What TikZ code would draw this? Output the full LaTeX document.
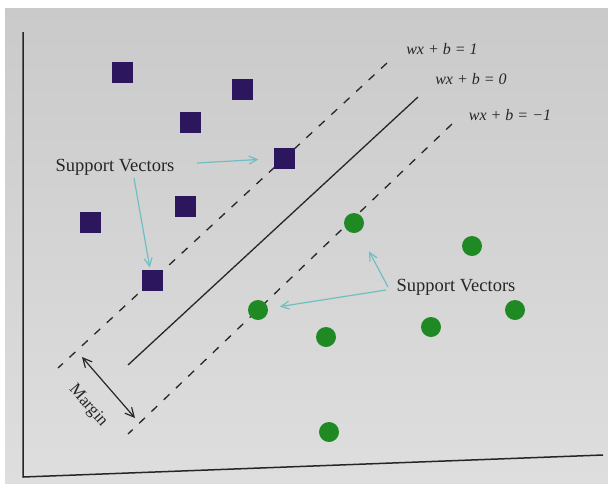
\documentclass[tikz,border=0pt]{standalone}
\usepackage{fontspec}
\setmainfont{Liberation Serif}
\usetikzlibrary{arrows.meta}
\definecolor{paperA}{HTML}{CACACA}
\definecolor{paperB}{HTML}{DEDEDE}
\definecolor{sqcol}{HTML}{2C175F}
\definecolor{dotcol}{HTML}{1F8A24}
\definecolor{svcol}{HTML}{6FBFC2}
\definecolor{inkcol}{HTML}{262626}
\tikzset{
  sq/.style={rectangle, fill=sqcol, minimum size=21pt, inner sep=0pt},
  dot/.style={circle, fill=dotcol, minimum size=20pt, inner sep=0pt},
  hyper/.style={draw=inkcol, line width=1.3pt},
  hyperdash/.style={hyper, dash pattern=on 8pt off 9pt},
  svarrow/.style={draw=svcol, line width=1.2pt, -{Straight Barb[length=8pt,width=8pt]}},
  eqlabel/.style={font=\fontsize{16}{18}\selectfont\itshape, text=inkcol, inner sep=0pt},
  svlabel/.style={font=\fontsize{18.5}{22}\selectfont, text=inkcol, inner sep=0pt},
  axis/.style={draw=inkcol, line width=1.5pt}
}
\begin{document}
\begin{tikzpicture}[x=1pt,y=-1pt]
\useasboundingbox (0,0) rectangle (608,483);
\fill[white] (0,0) rectangle (608,483);
\shade[top color=paperA, bottom color=paperB] (5,8) rectangle (608,483);

% axes
\coordinate (ax0) at (23,32);
\coordinate (ax1) at (23,477);
\coordinate (ax2) at (603,455);
\draw[axis] (ax0) -- (ax1) -- (ax2);

% hyperplanes
\coordinate (up1) at (387,63);
\coordinate (up2) at (58,368);
\coordinate (mid1) at (418,97);
\coordinate (mid2) at (128,365);
\coordinate (lo1) at (452,124);
\coordinate (lo2) at (128,434);
\draw[hyperdash] (up1) -- (up2);
\draw[hyper] (mid1) -- (mid2);
\draw[hyperdash] (lo1) -- (lo2);

% labels of hyperplanes
\node[eqlabel] (e1) at (442,49) {wx + b = 1};
\node[eqlabel] (e0) at (471,79) {wx + b = 0};
\node[eqlabel] (em) at (510,115) {wx + b = −1};

% squares
\node[sq] (s1) at (122,72) {};
\node[sq] (s2) at (242,89) {};
\node[sq] (s3) at (190,122) {};
\node[sq] (s4) at (284,158) {};
\node[sq] (s5) at (185,206) {};
\node[sq] (s6) at (90,222) {};
\node[sq] (s7) at (152,280) {};

% circles
\node[dot] (c1) at (354,223) {};
\node[dot] (c2) at (472,246) {};
\node[dot] (c3) at (258,310) {};
\node[dot] (c4) at (326,337) {};
\node[dot] (c5) at (431,327) {};
\node[dot] (c6) at (515,310) {};
\node[dot] (c7) at (329,432) {};

% support vector labels and arrows
\node[svlabel] (svL) at (115,167) {Support Vectors};
\node[svlabel] (svR) at (456,287) {Support Vectors};
\coordinate (aL1) at (197,163);
\coordinate (aL2) at (134,178);
\coordinate (aR1) at (388,287);
\coordinate (aR2) at (386,290);
\draw[svarrow, shorten >=15pt] (aL1) -- (s4);
\draw[svarrow, shorten >=2pt] (aL2) -- (s7);
\draw[svarrow, shorten >=22pt] (aR1) -- (c1);
\draw[svarrow, shorten >=12pt] (aR2) -- (c3);

% margin
\coordinate (m1) at (82,357);
\coordinate (m2) at (135,418);
\draw[draw=inkcol, line width=1.2pt, {Straight Barb[length=9pt,width=9pt]}-{Straight Barb[length=9pt,width=9pt]}] (m1) -- (m2);
\node[font=\fontsize{17}{20}\selectfont, text=inkcol, rotate=-49, inner sep=0pt] (mg) at (88,406) {Margin};
\end{tikzpicture}
\end{document}
